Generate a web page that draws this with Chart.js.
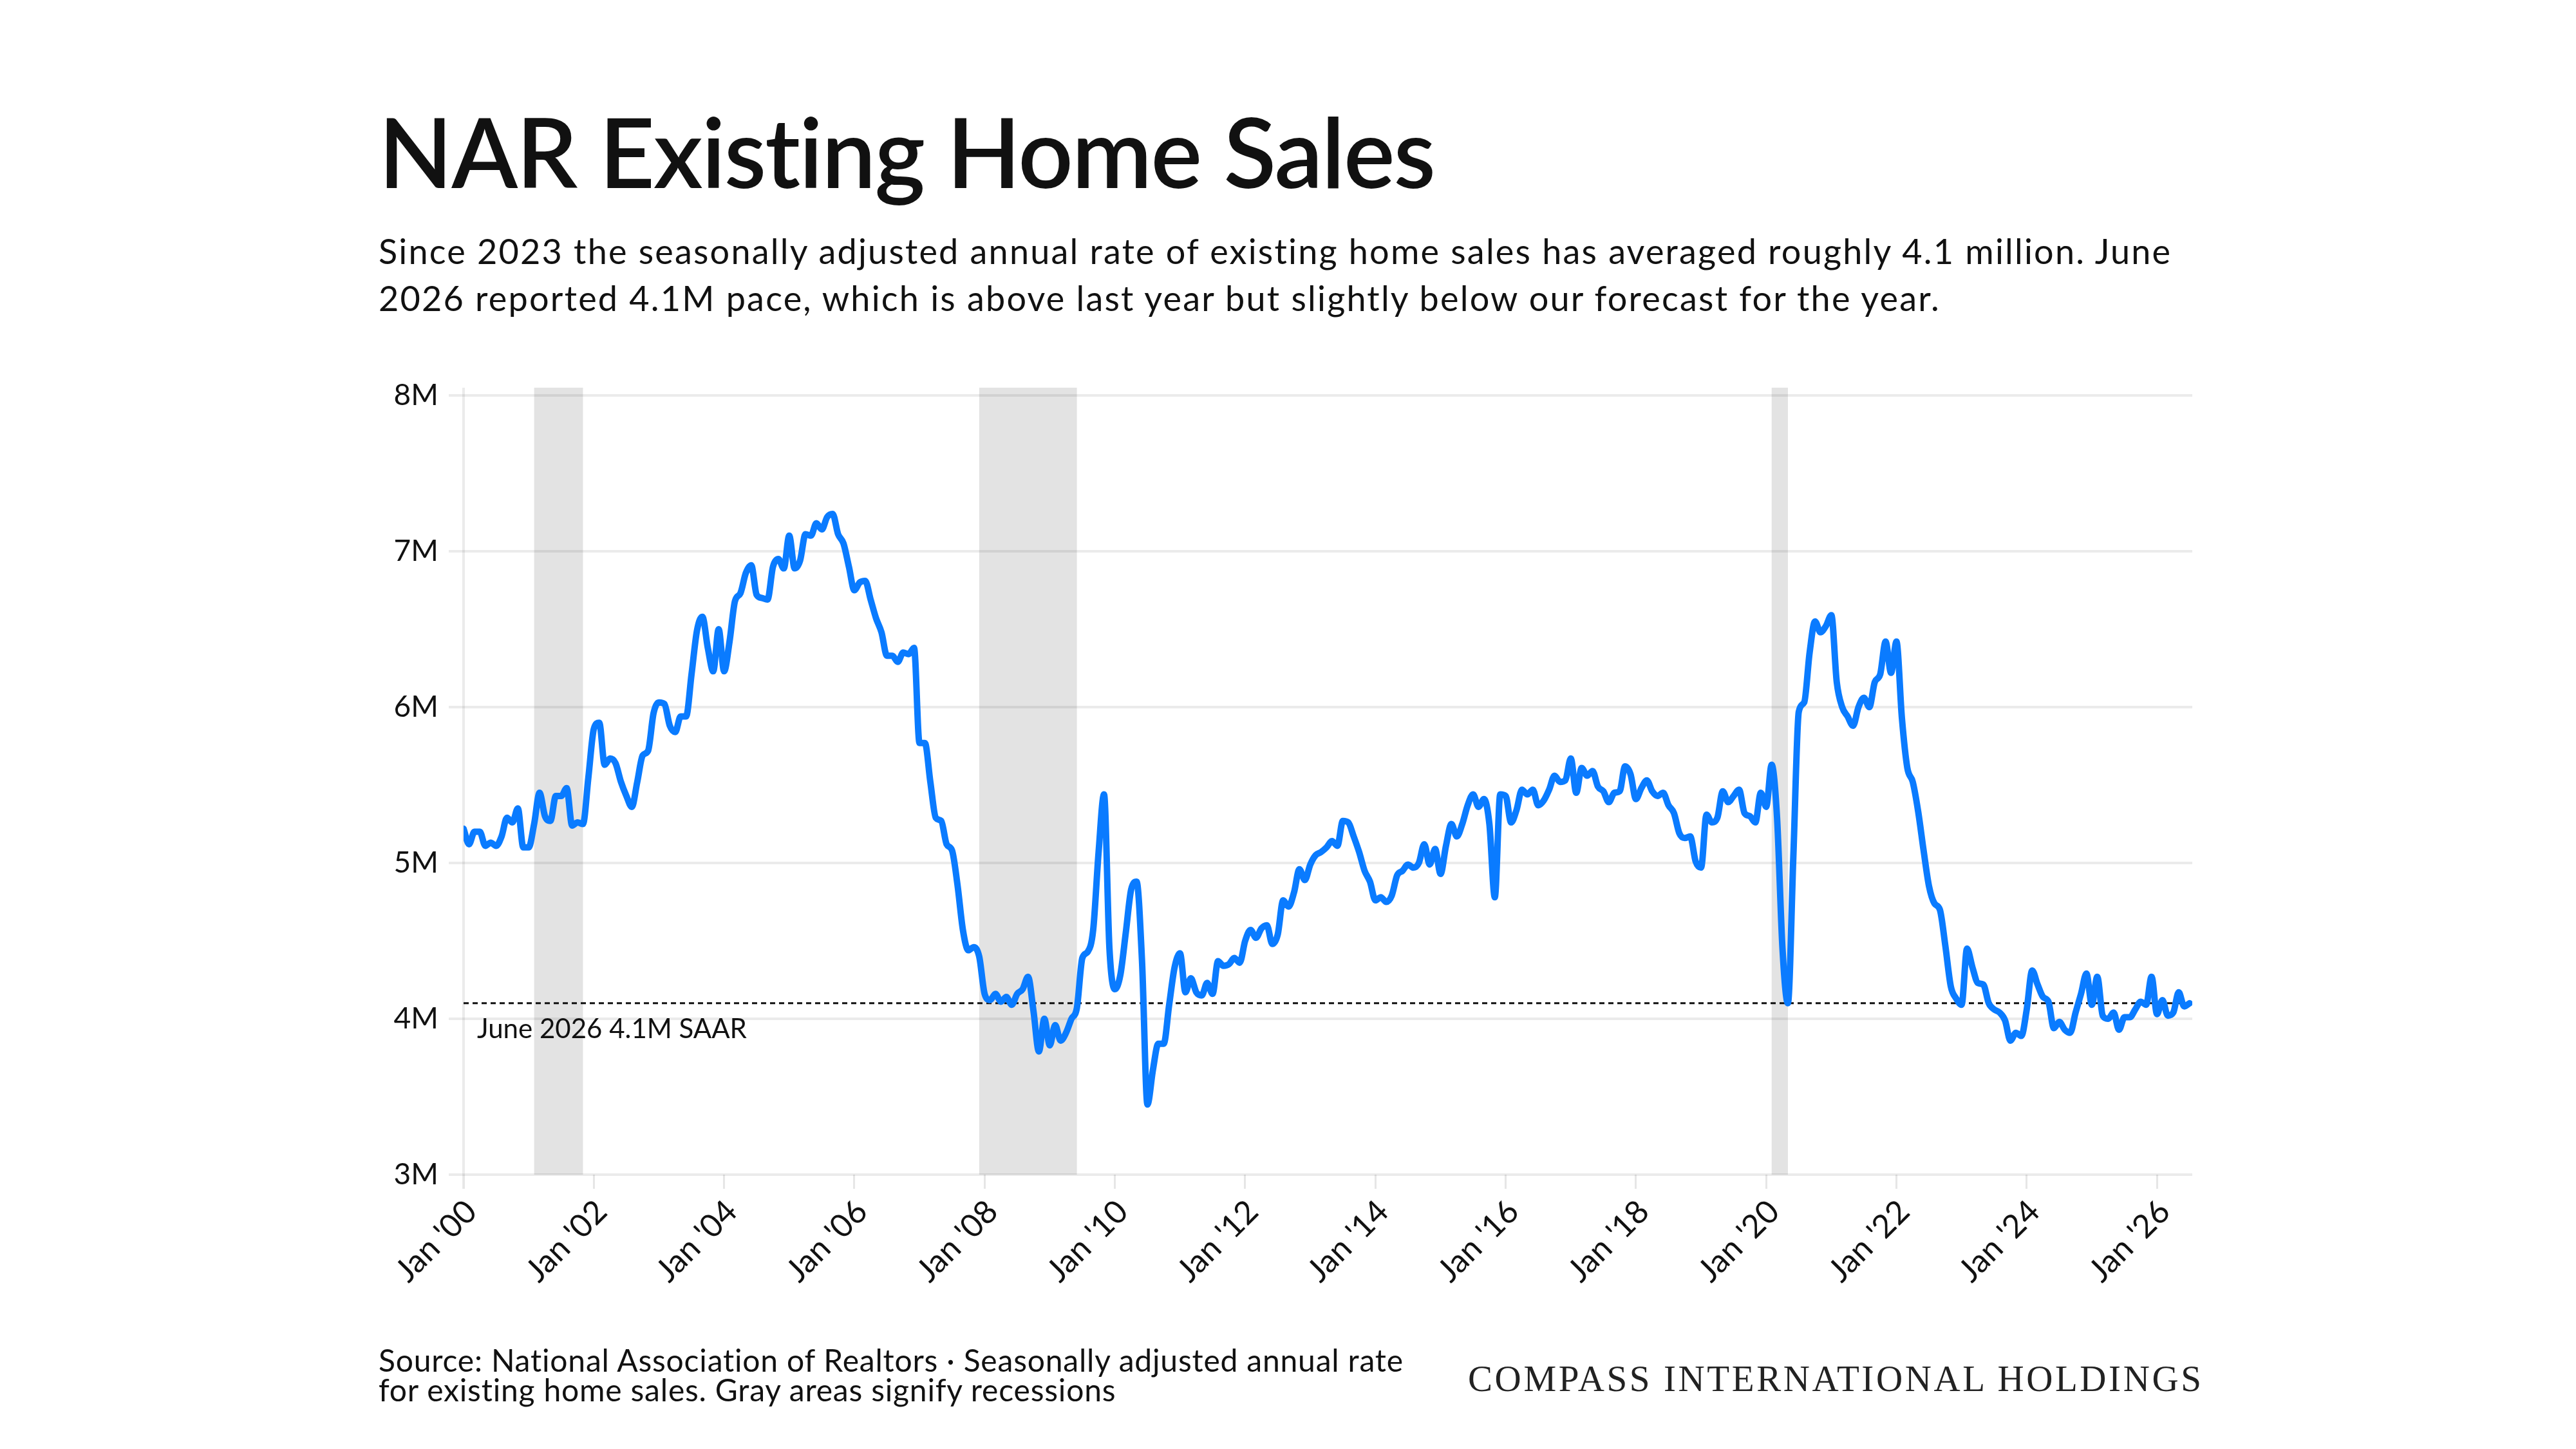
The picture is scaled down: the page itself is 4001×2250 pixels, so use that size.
<!DOCTYPE html>
<html>
<head>
<meta charset="utf-8">
<script src="https://cdn.jsdelivr.net/npm/chart.js@4.4.1/dist/chart.umd.min.js"></script>
<style>
  body { margin: 0; width: 4001px; height: 2250px; background: #fff; overflow: hidden; position: relative; font-family: Lato, sans-serif; color: #111; }
  #wrap { position: absolute; left: 0; top: 0; width: 4001px; height: 2250px; }
  .txt { position: absolute; left: 588px; margin: 0; white-space: nowrap; }
  #title { top: 144px; font-size: 150px; line-height: 180px; font-weight: 600; letter-spacing: -2px; }
  #sub { top: 353px; font-size: 54px; line-height: 73px; letter-spacing: 2.2px; }
  #source { top: 2089px; font-size: 48px; line-height: 46px; letter-spacing: 0.8px; }
  #brand { position: absolute; top: 2109px; left: 2280px; margin: 0; white-space: nowrap; font-family: "Liberation Serif", serif; font-size: 57px; line-height: 63px; letter-spacing: 3.6px; color: #222; }
</style>
</head>
<body>
<div id="wrap"><canvas id="salesChart"></canvas></div>
<h1 class="txt" id="title">NAR Existing Home Sales</h1>
<p class="txt" id="sub">Since 2023 the seasonally adjusted annual rate of existing home sales has averaged roughly 4.1 million. June<br>2026 reported 4.1M pace, which is above last year but slightly below our forecast for the year.</p>
<p class="txt" id="source">Source: National Association of Realtors · Seasonally adjusted annual rate<br>for existing home sales. Gray areas signify recessions</p>
<p id="brand">COMPASS INTERNATIONAL HOLDINGS</p>
<script>
// monthly SAAR in millions, index 0 = Jan 2000
const sales = [
  5.22, 5.12, 5.20, 5.20, 5.11, 5.13, 5.11, 5.17, 5.29, 5.26, 5.35, 5.10, // 2000
  5.10, 5.25, 5.45, 5.30, 5.27, 5.43, 5.43, 5.48, 5.24, 5.26, 5.25, 5.55, // 2001
  5.86, 5.90, 5.63, 5.67, 5.64, 5.52, 5.43, 5.36, 5.52, 5.69, 5.72, 5.96, // 2002
  6.03, 6.02, 5.88, 5.84, 5.94, 5.94, 6.21, 6.49, 6.58, 6.38, 6.23, 6.50, // 2003
  6.23, 6.42, 6.68, 6.73, 6.86, 6.91, 6.72, 6.70, 6.69, 6.90, 6.95, 6.89, // 2004
  7.10, 6.89, 6.94, 7.11, 7.10, 7.18, 7.14, 7.22, 7.24, 7.11, 7.05, 6.90, // 2005
  6.75, 6.80, 6.81, 6.69, 6.57, 6.48, 6.33, 6.33, 6.29, 6.35, 6.34, 6.38, // 2006
  5.77, 5.77, 5.52, 5.29, 5.27, 5.12, 5.08, 4.86, 4.57, 4.44, 4.46, 4.40, // 2007
  4.16, 4.12, 4.16, 4.11, 4.14, 4.09, 4.16, 4.19, 4.27, 4.05, 3.79, 4.00, // 2008
  3.83, 3.96, 3.86, 3.91, 4.00, 4.07, 4.39, 4.43, 4.57, 5.07, 5.44, 4.45, // 2009
  4.19, 4.28, 4.55, 4.83, 4.88, 4.37, 3.45, 3.67, 3.84, 3.84, 4.09, 4.33, // 2010
  4.42, 4.17, 4.26, 4.17, 4.15, 4.23, 4.16, 4.37, 4.34, 4.35, 4.39, 4.36, // 2011
  4.50, 4.57, 4.52, 4.58, 4.60, 4.48, 4.54, 4.76, 4.72, 4.81, 4.96, 4.89, // 2012
  4.99, 5.05, 5.07, 5.10, 5.14, 5.11, 5.27, 5.26, 5.17, 5.07, 4.95, 4.88, // 2013
  4.76, 4.78, 4.75, 4.79, 4.92, 4.95, 4.99, 4.97, 5.00, 5.12, 4.99, 5.09, // 2014
  4.93, 5.11, 5.25, 5.17, 5.25, 5.37, 5.44, 5.36, 5.41, 5.25, 4.78, 5.44, // 2015
  5.43, 5.26, 5.34, 5.47, 5.44, 5.47, 5.37, 5.40, 5.47, 5.56, 5.52, 5.53, // 2016
  5.67, 5.45, 5.61, 5.56, 5.59, 5.49, 5.46, 5.39, 5.45, 5.46, 5.62, 5.57, // 2017
  5.41, 5.48, 5.53, 5.46, 5.43, 5.45, 5.37, 5.32, 5.19, 5.16, 5.17, 5.01, // 2018
  4.97, 5.31, 5.26, 5.29, 5.46, 5.39, 5.43, 5.47, 5.32, 5.30, 5.26, 5.45, // 2019
  5.36, 5.63, 5.29, 4.45, 4.10, 5.04, 5.97, 6.03, 6.35, 6.55, 6.48, 6.52, // 2020
  6.59, 6.16, 6.00, 5.94, 5.88, 6.00, 6.06, 6.00, 6.16, 6.21, 6.42, 6.22, // 2021
  6.42, 5.93, 5.61, 5.52, 5.33, 5.08, 4.85, 4.74, 4.70, 4.47, 4.21, 4.13, // 2022
  4.09, 4.45, 4.33, 4.23, 4.22, 4.10, 4.06, 4.04, 3.99, 3.86, 3.91, 3.89, // 2023
  4.06, 4.31, 4.22, 4.14, 4.11, 3.94, 3.98, 3.93, 3.91, 4.04, 4.16, 4.29, // 2024
  4.09, 4.27, 4.02, 4.00, 4.04, 3.93, 4.01, 4.01, 4.06, 4.11, 4.09, 4.27, // 2025
  4.03, 4.12, 4.02, 4.04, 4.17, 4.08, 4.10                                // 2026
];

// recession spans as [start month index, end month index]
const recessions = [[13, 22], [95, 113], [241, 244]];

const latestPace = 4.1;
const latestLabel = 'June 2026 4.1M SAAR';
const yTicks = [3, 4, 5, 6, 7, 8];
const yearTicks = [0, 24, 48, 72, 96, 120, 144, 168, 192, 216, 240, 264, 288, 312];
const lastMonth = 318.5;

// gray recession bands + left axis line, under the grid
const bandsPlugin = {
    id: 'bands',
    beforeDraw(chart) {
        const { ctx, chartArea, scales } = chart;
        const x = scales.x;
        ctx.save();
        ctx.fillStyle = '#e3e3e3';
        recessions.forEach(([a, b]) => {
            const x0 = x.getPixelForValue(a);
            const x1 = x.getPixelForValue(b);
            ctx.fillRect(x0, chartArea.top - 12, x1 - x0, chartArea.bottom - chartArea.top + 12);
        });
        ctx.strokeStyle = 'rgba(0,0,0,0.08)';
        ctx.lineWidth = 4;
        ctx.beginPath();
        ctx.moveTo(chartArea.left, chartArea.top - 12);
        ctx.lineTo(chartArea.left, chartArea.bottom + 22);
        ctx.stroke();
        ctx.restore();
    },
    afterDatasetsDraw(chart) {
        const { ctx, scales } = chart;
        ctx.save();
        ctx.fillStyle = '#111';
        ctx.font = '42px Lato';
        ctx.textBaseline = 'alphabetic';
        ctx.fillText(latestLabel, scales.x.getPixelForValue(0) + 21, scales.y.getPixelForValue(latestPace) + 54);
        ctx.restore();
    }
};

Chart.defaults.font.family = 'Lato';
Chart.defaults.color = '#111';

const chartCanvas = document.getElementById('salesChart');
const chartData = {
    datasets: [{
        label: 'Existing home sales',
        data: sales.map((v, i) => ({ x: i, y: v })),
        borderColor: '#0a7bff',
        borderWidth: 10,
        pointRadius: 0,
        cubicInterpolationMode: 'monotone',
        borderJoinStyle: 'round',
        borderCapStyle: 'round',
        order: 1
    }, {
        label: latestLabel,
        data: [{ x: 0, y: latestPace }, { x: lastMonth, y: latestPace }],
        borderColor: '#111',
        borderWidth: 3,
        borderDash: [8, 6],
        pointRadius: 0,
        order: 2
    }]
};

const chartConfig = {
    type: 'line',
    data: chartData,
    plugins: [bandsPlugin],
    options: {
        responsive: true,
        maintainAspectRatio: false,
        devicePixelRatio: 1,
        animation: false,
        layout: { padding: { left: 520, right: 596, top: 614, bottom: 206 } },
        plugins: { legend: { display: false }, tooltip: { enabled: false } },
        scales: {
            x: {
                type: 'linear',
                min: 0,
                max: lastMonth,
                afterFit(scale) { scale.height = 220; },
                afterBuildTicks(scale) { scale.ticks = yearTicks.map(v => ({ value: v })); },
                border: { display: false },
                grid: { drawOnChartArea: false, tickLength: 22, tickColor: '#e6e6e6', tickWidth: 3 },
                ticks: {
                    autoSkip: false,
                    includeBounds: false,
                    minRotation: 45,
                    maxRotation: 45,
                    padding: 6,
                    labelOffset: 12,
                    font: { size: 50 },
                    callback: v => "Jan '" + String(v / 12).padStart(2, '0')
                }
            },
            y: {
                min: 3,
                max: 8,
                afterFit(scale) { scale.width = 200; },
                afterBuildTicks(scale) { scale.ticks = yTicks.map(v => ({ value: v })); },
                border: { display: false },
                grid: { color: 'rgba(0,0,0,0.08)', lineWidth: 4, tickLength: 23 },
                ticks: {
                    padding: 16,
                    font: { size: 46 },
                    callback: v => v + 'M'
                }
            }
        }
    }
};

const salesChart = new Chart(chartCanvas, chartConfig);
</script>
</body>
</html>
